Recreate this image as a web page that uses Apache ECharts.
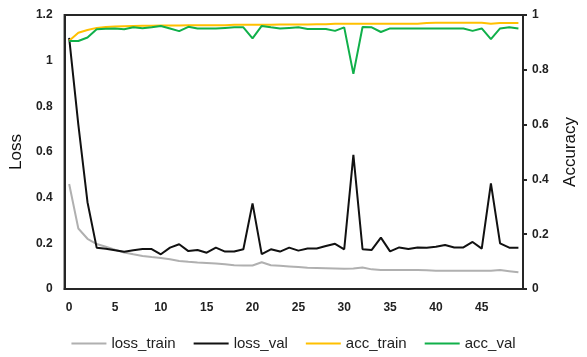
<!DOCTYPE html>
<html>
<head>
<meta charset="utf-8">
<script src="https://cdn.jsdelivr.net/npm/echarts@6/dist/echarts.min.js"></script>
<style>html,body{margin:0;padding:0;background:#fff}#c{width:587px;height:357px}</style>
</head>
<body>
<div id="c"></div>
<script>
const epochs = Array.from({length: 50}, (_, i) => String(i));
const lossTrain = [0.46,0.265,0.22,0.197,0.185,0.172,0.16,0.152,0.145,0.14,
  0.136,0.13,0.123,0.119,0.116,0.114,0.112,0.108,0.104,0.103,
  0.103,0.117,0.104,0.102,0.099,0.096,0.093,0.092,0.091,0.09,
  0.089,0.09,0.094,0.086,0.083,0.083,0.083,0.083,0.083,0.082,
  0.08,0.08,0.08,0.08,0.08,0.08,0.08,0.083,0.078,0.073];
const lossVal = [1.1,0.72,0.38,0.181,0.176,0.17,0.163,0.17,0.175,0.175,
  0.152,0.181,0.196,0.166,0.171,0.159,0.181,0.164,0.164,0.174,
  0.375,0.153,0.174,0.164,0.181,0.168,0.177,0.177,0.188,0.198,
  0.174,0.587,0.174,0.171,0.225,0.165,0.182,0.175,0.182,0.181,
  0.185,0.193,0.182,0.182,0.206,0.177,0.463,0.2,0.181,0.181];
const accTrain = [0.906,0.935,0.945,0.953,0.956,0.958,0.959,0.96,0.961,0.961,
  0.962,0.962,0.962,0.963,0.963,0.963,0.963,0.963,0.964,0.964,
  0.964,0.964,0.964,0.965,0.965,0.965,0.965,0.966,0.966,0.968,
  0.968,0.968,0.968,0.968,0.968,0.968,0.968,0.968,0.968,0.971,
  0.972,0.972,0.972,0.972,0.972,0.972,0.968,0.971,0.971,0.971];
const accVal = [0.905,0.905,0.918,0.948,0.95,0.951,0.948,0.955,0.952,0.955,
  0.96,0.951,0.941,0.957,0.951,0.951,0.951,0.953,0.955,0.955,
  0.915,0.96,0.955,0.951,0.953,0.955,0.949,0.949,0.949,0.942,
  0.955,0.785,0.956,0.955,0.938,0.951,0.951,0.951,0.951,0.951,
  0.951,0.951,0.951,0.951,0.942,0.951,0.912,0.951,0.955,0.951];

const font = '"Liberation Sans", Arial, sans-serif';
const chart = echarts.init(document.getElementById('c'));
const lab = {color: '#222', fontFamily: font, fontWeight: 'bold', fontSize: 12};
chart.setOption({
  animation: false,
  grid: {left: 63, right: 57, top: 15, bottom: 68, show: true, borderColor: '#262626', borderWidth: 2},
  legend: {
    bottom: 1, left: 'center', itemWidth: 35, itemHeight: 2, itemGap: 18, icon: 'rect',
    textStyle: {fontFamily: font, fontSize: 15, color: '#222'},
    data: ['loss_train', 'loss_val', 'acc_train', 'acc_val']
  },
  xAxis: {
    type: 'category', data: epochs, boundaryGap: true,
    axisLine: {lineStyle: {color: '#262626', width: 2}},
    axisTick: {show: false},
    axisLabel: Object.assign({interval: 4, margin: 13}, lab)
  },
  yAxis: [{
    type: 'value', min: 0, max: 1.2, interval: 0.2,
    name: 'Loss', nameLocation: 'middle', nameGap: 35,
    nameTextStyle: {fontFamily: font, fontSize: 17, color: '#111'},
    axisLine: {show: true, lineStyle: {color: '#262626', width: 2}},
    axisTick: {show: false}, splitLine: {show: false},
    axisLabel: Object.assign({margin: 12}, lab)
  }, {
    type: 'value', min: 0, max: 1, interval: 0.2, position: 'right',
    name: 'Accuracy', nameLocation: 'middle', nameGap: 39, nameRotate: 90,
    nameTextStyle: {fontFamily: font, fontSize: 17, color: '#111'},
    axisLine: {show: true, lineStyle: {color: '#262626', width: 2}},
    axisTick: {show: true, length: 4, lineStyle: {color: '#262626', width: 2}},
    splitLine: {show: false},
    axisLabel: Object.assign({margin: 9}, lab)
  }],
  series: [
    {name: 'loss_train', type: 'line', yAxisIndex: 0, data: lossTrain, showSymbol: false, lineStyle: {color: '#b0b0b0', width: 2}, itemStyle: {color: '#b0b0b0'}},
    {name: 'loss_val', type: 'line', yAxisIndex: 0, data: lossVal, showSymbol: false, lineStyle: {color: '#111111', width: 2}, itemStyle: {color: '#111111'}},
    {name: 'acc_train', type: 'line', yAxisIndex: 1, data: accTrain, showSymbol: false, lineStyle: {color: '#ffc000', width: 2}, itemStyle: {color: '#ffc000'}},
    {name: 'acc_val', type: 'line', yAxisIndex: 1, data: accVal, showSymbol: false, lineStyle: {color: '#10b04a', width: 2}, itemStyle: {color: '#10b04a'}}
  ]
});
</script>
</body>
</html>
